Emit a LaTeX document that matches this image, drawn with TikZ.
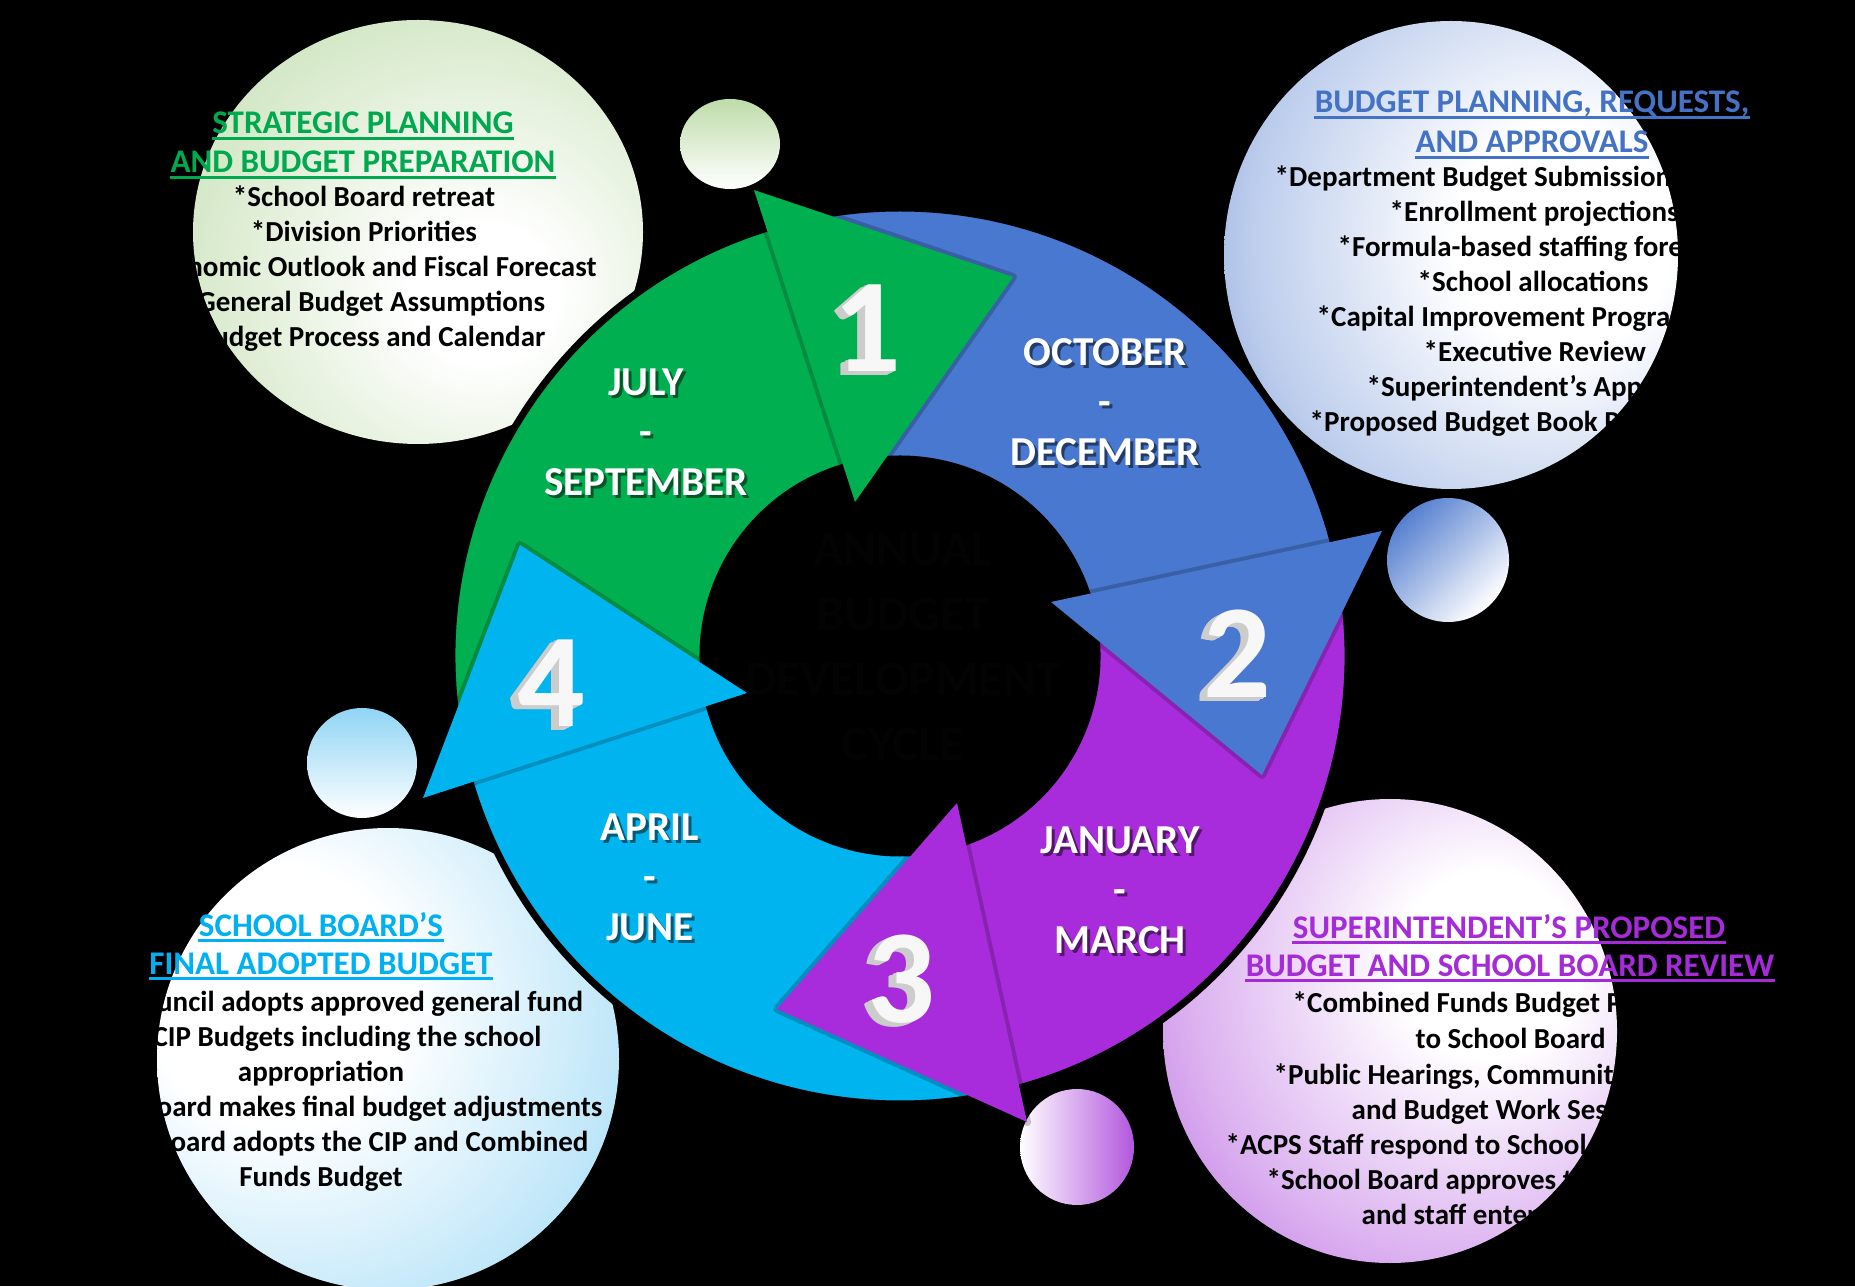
\documentclass[tikz,border=0pt]{standalone}
\usepackage{fontspec}
\setmainfont{Carlito}

\definecolor{stepgreen}{HTML}{00B050}
\definecolor{stepblue}{HTML}{4878CF}
\definecolor{steppurple}{HTML}{A92CDC}
\definecolor{stepcyan}{HTML}{00B4F0}
\definecolor{headgreen}{HTML}{00A84E}
\definecolor{headblue}{HTML}{4472C4}
\definecolor{headpurple}{HTML}{A52BD9}
\definecolor{headcyan}{HTML}{00B0F0}
\definecolor{bubgreen}{HTML}{A9D08E}
\definecolor{bubblue}{HTML}{5680D0}
\definecolor{bubpurple}{HTML}{B256DE}
\definecolor{bubcyan}{HTML}{74CAF2}
\definecolor{holetxt}{HTML}{030303}

\pgfdeclareradialshading{greenball}{\pgfpoint{8bp}{-8bp}}{color(0bp)=(white);color(8bp)=(white);color(30bp)=(bubgreen!45);color(50bp)=(bubgreen!85);color(100bp)=(bubgreen!85)}
\pgfdeclareradialshading{blueball}{\pgfpoint{14bp}{2bp}}{color(0bp)=(white);color(12bp)=(white);color(32bp)=(bubblue!40);color(50bp)=(bubblue);color(100bp)=(bubblue)}
\pgfdeclareradialshading{purpleball}{\pgfpoint{12bp}{8bp}}{color(0bp)=(white);color(10bp)=(white);color(30bp)=(bubpurple!45);color(50bp)=(bubpurple);color(100bp)=(bubpurple)}
\pgfdeclareradialshading{cyanball}{\pgfpoint{-14bp}{8bp}}{color(0bp)=(white);color(14bp)=(white);color(34bp)=(bubcyan!45);color(50bp)=(bubcyan);color(100bp)=(bubcyan)}

\begin{document}
\begin{tikzpicture}[x=0.1mm,y=0.1mm,line join=round,
  band/.style={draw=black,line width=0.7mm},
  arrowhead/.style={preaction={draw=black,draw opacity=.2,line width=0.8mm}},
  monthtxt/.style={font=\fontsize{11.7}{14.2}\selectfont\bfseries,align=center,text=white,inner sep=0},
  numtxt/.style={font=\fontsize{38}{40}\selectfont\bfseries,inner sep=0},
  centertxt/.style={font=\fontsize{14.2}{18.5}\selectfont\bfseries,align=center,text=holetxt,inner sep=0},
  headtxt/.style={font=\fontsize{9.4}{11.4}\selectfont\bfseries,inner sep=0,anchor=base},
  bodytxt/.style={font=\fontsize{8.25}{10}\selectfont\bfseries,text=black,inner sep=0,anchor=base},
  bodyleft/.style={bodytxt,anchor=base west}]
  \useasboundingbox (0,0) rectangle (1855,1286);
  \fill[black] (0,0) rectangle (1855,1286);

  % bubbles
  \shade[shading=greenball] (418,1054) ellipse [x radius=225, y radius=212];
  \shade[shading=blueball] (1451,1031) ellipse [x radius=227, y radius=234];
  \shade[shading=purpleball] (1390,255) ellipse [x radius=227, y radius=232];
  \shade[shading=cyanball] (388,227) circle [radius=231];
  \shade[top color=bubgreen!75, bottom color=white] (730,1142) ellipse [x radius=50, y radius=45];
  \shade[top color=bubblue, bottom color=white, shading angle=45] (1448,726) ellipse [x radius=61, y radius=62];
  \shade[top color=bubcyan!80, bottom color=white] (362,523) circle [radius=55];
  \shade[left color=white, right color=bubpurple] (1077,139) ellipse [x radius=57, y radius=58];

  % ring
  \begin{scope}[shift={(900,630)}]
    \foreach \col/\a/\b in {stepgreen/191/103, stepblue/103/12, steppurple/12/-77, stepcyan/-77/-169}
      \filldraw[band,fill=\col] (\a:197) arc[start angle=\a, end angle=\b, radius=197]
        -- (\b:448) arc[start angle=\b, end angle=\a, radius=448] -- cycle;
  \end{scope}

  \coordinate (g-o) at (754,1096);
  \coordinate (g-t) at (1013,1009);
  \coordinate (g-i) at (855,784);
  \coordinate (b-o) at (1382,755);
  \coordinate (b-t) at (1262,511);
  \coordinate (b-i) at (1051,684);
  \coordinate (p-o) at (1027,164);
  \coordinate (p-t) at (777,277);
  \coordinate (p-i) at (957,483);
  \coordinate (c-o) at (423,488);
  \coordinate (c-t) at (520,741);
  \coordinate (c-i) at (747,593);
  \foreach \n/\col in {g/stepgreen, b/stepblue, p/steppurple, c/stepcyan}
    \fill[arrowhead,\col] (\n-o) -- (\n-t) -- (\n-i) -- cycle;

  \foreach \n/\x/\y/\d in {n1/867/958/1, n2/1237/632/2, n3/901/307/3, n4/551/603/4}{
    \foreach \k in {1,...,6}
      \node[numtxt,text=gray!40] (\n-\k) at (\x-\k*1.3,\y-\k*0.7) {\d};
    \node[numtxt,text=gray!6] (\n) at (\x,\y) {\d};
  }

  \foreach \n/\x/\y/\t in {jul/646/854/{JULY\\-\\SEPTEMBER}, oct/1105/884/{OCTOBER\\-\\DECEMBER},
      jan/1120/396/{JANUARY\\-\\MARCH}, apr/650/409/{APRIL\\-\\JUNE}}{
    \node[monthtxt,text=black,opacity=.5] (\n-s) at (\x+3,\y-3) {\t};
    \node[monthtxt] (\n) at (\x,\y) {\t};
  }

  \node[centertxt] (cycle) at (903,639) {ANNUAL\\BUDGET\\DEVELOPMENT\\CYCLE};

  % strategic planning
  \node[headtxt,text=headgreen] (ghead1) at (363,1152) {STRATEGIC PLANNING};
  \node[headtxt,text=headgreen] (ghead2) at (363,1113) {AND BUDGET PREPARATION};
  \foreach \y/\t [count=\i] in {1079/{*School Board retreat}, 1044/{*Division Priorities},
      1009/{*Economic Outlook and Fiscal Forecast}, 974/{*General Budget Assumptions},
      939/{*Budget Process and Calendar}}
    \node[bodytxt] (gline\i) at (364,\y) {\t};

  % budget planning
  \node[headtxt,text=headblue] (bhead1) at (1532,1173) {BUDGET PLANNING, REQUESTS,};
  \node[headtxt,text=headblue] (bhead2) at (1532,1133) {AND APPROVALS};
  \foreach \x/\y/\t [count=\i] in {1274/1099/{*Department Budget Submissions},
      1389/1064/{*Enrollment projections}, 1337/1029/{*Formula-based staffing forecasts},
      1417/994/{*School allocations}, 1316/959/{*Capital Improvement Program},
      1423/924/{*Executive Review}, 1366/889/{*Superintendent’s Approval},
      1309/854/{*Proposed Budget Book Released}}
    \node[bodyleft] (bline\i) at (\x,\y) {\t};

  % superintendent's proposed budget
  \node[headtxt,text=headpurple] (phead1) at (1509,348) {SUPERINTENDENT’S PROPOSED};
  \node[headtxt,text=headpurple] (phead2) at (1510,310) {BUDGET AND SCHOOL BOARD REVIEW};
  \foreach \x/\y/\t [count=\i] in {1292/274/{*Combined Funds Budget Presented},
      1415/238/{to School Board}, 1273/202/{*Public Hearings, Community Meetings},
      1351/167/{and Budget Work Sessions}, 1225/132/{*ACPS Staff respond to School Board questions},
      1266/97/{*School Board approves the budget}, 1361/62/{and staff enter the budget}}
    \node[bodyleft] (pline\i) at (\x,\y) {\t};

  % final adopted budget
  \node[headtxt,text=headcyan] (chead1) at (321,350) {SCHOOL BOARD’S};
  \node[headtxt,text=headcyan] (chead2) at (321,312) {FINAL ADOPTED BUDGET};
  \foreach \y/\t [count=\i] in {275/{*City Council adopts approved general fund},
      240/{and CIP Budgets including the school}, 205/{appropriation},
      170/{*School Board makes final budget adjustments},
      135/{*School Board adopts the CIP and Combined}, 100/{Funds Budget}}
    \node[bodytxt] (cline\i) at (321,\y) {\t};

  % underlines
  \foreach \h/\col in {ghead1/headgreen, ghead2/headgreen, bhead1/headblue, bhead2/headblue,
      phead1/headpurple, phead2/headpurple, chead1/headcyan, chead2/headcyan}
    \draw[\col,line width=0.7pt] ([yshift=-0.45mm]\h.base west) -- ([yshift=-0.45mm]\h.base east);
\end{tikzpicture}
\end{document}
